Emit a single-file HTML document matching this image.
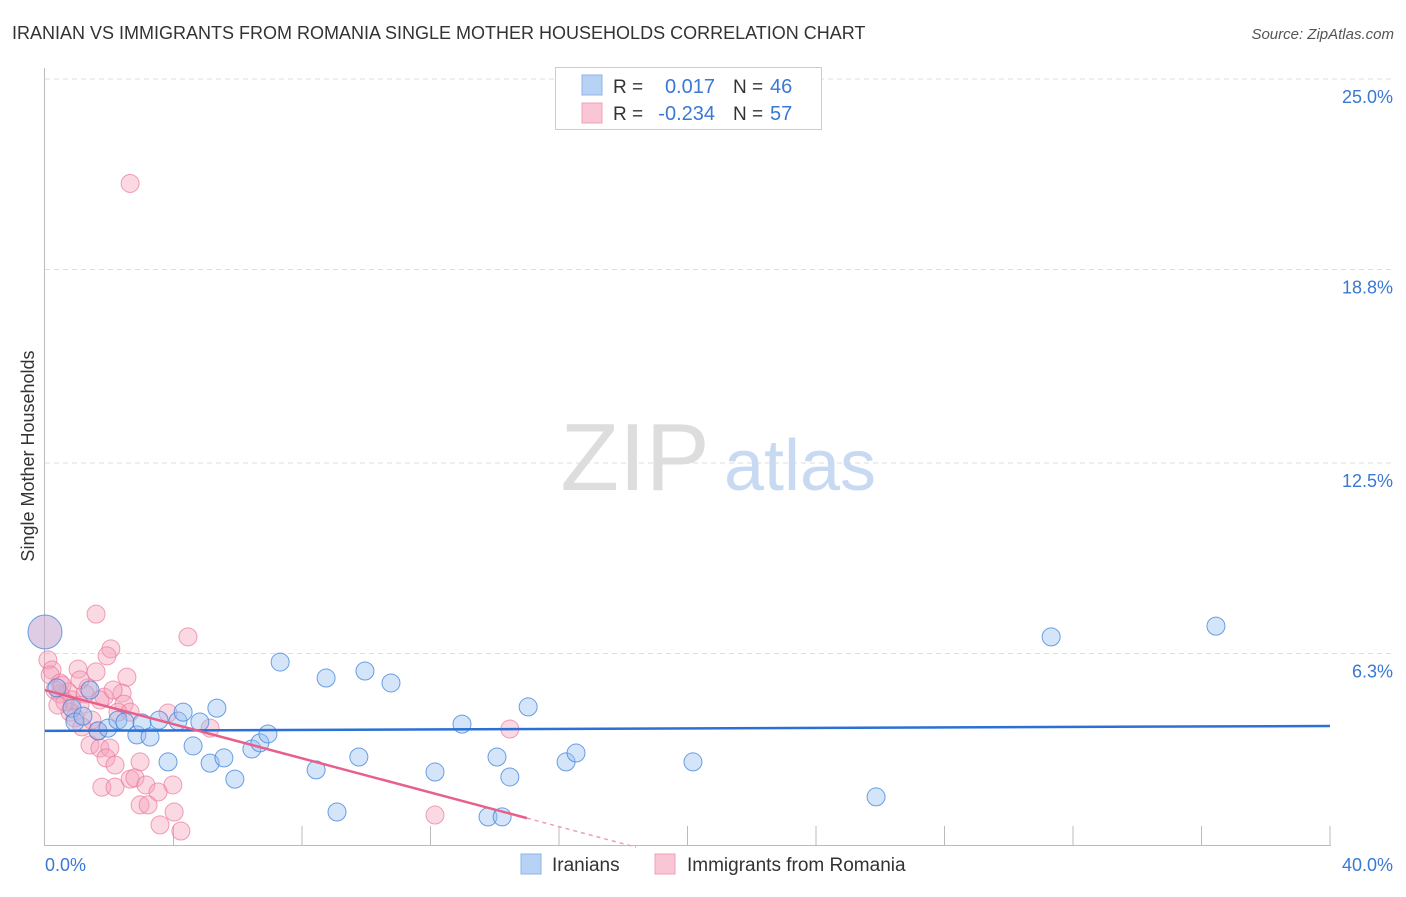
<!DOCTYPE html>
<html><head><meta charset="utf-8"><style>
body{margin:0;background:#fff;font-family:"Liberation Sans",sans-serif;}
svg text{font-family:"Liberation Sans",sans-serif;}
</style></head><body>
<svg id="chart" width="1406" height="892" viewBox="0 0 1406 892">
<text x="12" y="39" font-size="18" fill="#333">IRANIAN VS IMMIGRANTS FROM ROMANIA SINGLE MOTHER HOUSEHOLDS CORRELATION CHART</text>
<text x="1394" y="39" font-size="15" fill="#555" font-style="italic" text-anchor="end">Source: ZipAtlas.com</text>
<g id="grid"></g>
<g>
<text x="635" y="490" font-size="96" fill="#ddd" font-family="Liberation Serif" text-anchor="middle">ZIP</text>
<text x="800" y="490" font-size="72" fill="#c8daf2" text-anchor="middle">atlas</text></g>
<text transform="translate(34,456) rotate(-90)" font-size="18" fill="#333" text-anchor="middle">Single Mother Households</text>
<g id="marks"></g>
<g>
<rect x="555.5" y="67.5" width="266" height="62" fill="#fff" stroke="#ccc"/>
<rect x="582" y="75" width="20" height="20" fill="#b7d2f5" stroke="#8cb4e8"/>
<rect x="582" y="103" width="20" height="20" fill="#f9c6d5" stroke="#f0a0b8"/>
<text x="613" y="93" font-size="19" fill="#333">R =</text><text x="715" y="93" font-size="20" fill="#3a78d4" text-anchor="end">0.017</text>
<text x="733" y="93" font-size="19" fill="#333">N =</text><text x="770" y="93" font-size="20" fill="#3a78d4">46</text>
<text x="613" y="120" font-size="19" fill="#333">R =</text><text x="715" y="120" font-size="20" fill="#3a78d4" text-anchor="end">-0.234</text>
<text x="733" y="120" font-size="19" fill="#333">N =</text><text x="770" y="120" font-size="20" fill="#3a78d4">57</text>
</g>
<g>
<rect x="521" y="854" width="20" height="20" fill="#b7d2f5" stroke="#8cb4e8"/>
<text x="552" y="871" font-size="19" fill="#333">Iranians</text>
<rect x="655" y="854" width="20" height="20" fill="#f9c6d5" stroke="#f0a0b8"/>
<text x="687" y="871" font-size="19" fill="#333">Immigrants from Romania</text>
</g>
</svg>
<script>
const yTicks=[6.3,12.5,18.8,25.0];
const yTickLabels=["6.3%","12.5%","18.8%","25.0%"];
const xTickLabels=["0.0%","40.0%"];
const iranX=[0,0.37,1.4,0.84,0.93,1.18,1.65,1.96,2.27,2.49,2.86,3.02,3.27,3.55,3.83,4.14,4.30,4.61,4.82,5.14,5.35,5.57,5.91,6.44,6.69,6.94,7.32,8.44,8.75,9.09,9.77,9.96,10.77,12.14,12.98,13.79,14.07,14.23,14.47,15.04,16.22,16.53,20.17,25.87,31.32,36.45];
const iranY=[7.0,5.18,5.11,4.52,4.07,4.26,3.78,3.87,4.13,4.07,3.65,4.04,3.58,4.13,2.77,4.10,4.39,3.29,4.07,2.73,4.52,2.90,2.21,3.19,3.39,3.68,6.02,2.51,5.50,1.14,2.93,5.73,5.34,2.44,4.0,0.98,2.93,0.98,2.28,4.56,2.77,3.06,2.77,1.63,6.84,7.19];
const romX=[2.65,1.59,4.45,2.05,0.09,0.22,1.93,1.03,1.59,2.55,0.16,0.47,0.72,1.34,0.84,0.47,1.25,2.40,2.46,2.27,1.84,1.09,0.78,0.93,3.83,5.14,1.65,1.40,1.71,2.02,1.90,2.18,2.96,2.65,2.80,3.14,1.77,2.18,3.98,3.52,2.96,3.21,4.02,3.58,4.23,12.14,14.47,0.31,0.62,1.46,1.09,1.71,2.12,0.53,0.40,1.15,2.65];
const romY=[21.6,7.58,6.84,6.45,6.09,5.76,6.22,5.79,5.70,5.53,5.60,5.34,5.05,5.18,4.79,4.98,4.98,5.01,4.65,4.39,4.88,4.62,4.39,4.20,4.36,3.87,3.78,3.32,3.22,3.22,2.90,2.67,2.77,2.21,2.25,2.02,1.95,1.95,2.02,1.79,1.37,1.37,1.14,0.72,0.52,1.04,3.84,5.11,4.72,4.13,5.44,4.79,5.11,5.27,4.62,3.91,4.39];
const iranTrend=[3.78,3.94]; // at x=0 and x=40
const romTrend=[5.11,-0.278]; // intercept, slope
const NS="http://www.w3.org/2000/svg";
const sx=v=>45+v*32.125, sy=v=>847-v*30.72;
function mk(t,a,p){const e=document.createElementNS(NS,t);for(const k in a)e.setAttribute(k,a[k]);p.appendChild(e);return e;}
const grid=document.getElementById('grid'), marks=document.getElementById('marks');
yTicks.forEach((t,i)=>{
 const l=mk('line',{x1:45,x2:1395,y1:sy(t),y2:sy(t),stroke:'#ddd','stroke-dasharray':'5,4'},grid);
 
 
 const tx=mk('text',{x:1393,y:sy(t)+24,'font-size':18,fill:'#3a78d4','text-anchor':'end'},grid);
 tx.textContent=yTickLabels[i];
 
 
});
mk('line',{x1:44.5,x2:44.5,y1:68,y2:846,stroke:'#bbb'},grid);
mk('line',{x1:44,x2:1331,y1:845.5,y2:845.5,stroke:'#bbb'},grid);
for(let i=1;i<=10;i++){const x=sx(i*4);mk('line',{x1:x,x2:x,y1:826,y2:846,stroke:'#bbb'},grid);}
xTickLabels.forEach((s,i)=>{const t=mk('text',{x:i?1393:45,y:871,'font-size':18,fill:'#3a78d4','text-anchor':i?'end':'start'},grid);t.textContent=s;
 
 });
romX.forEach((x,i)=>{const c=mk('circle',{cx:sx(x),cy:sy(romY[i]),r:(i==0&&false)?16:9,fill:'rgba(245,160,185,0.4)',stroke:'rgba(235,120,155,0.7)','stroke-width':1},marks);
 
 });
iranX.forEach((x,i)=>{const c=mk('circle',{cx:sx(x),cy:sy(iranY[i]),r:i==0?17:9,fill:i==0?'rgba(200,170,210,0.6)':'rgba(150,190,240,0.4)',stroke:'rgba(60,130,220,0.75)','stroke-width':1},marks);
 
 });
const bl=mk('line',{x1:sx(0),y1:sy(iranTrend[0]),x2:sx(40),y2:sy(iranTrend[1]),stroke:'#2a70d6','stroke-width':2.5},marks);


const pl=mk('line',{x1:sx(0),y1:sy(romTrend[0]),x2:sx(15),y2:sy(romTrend[0]+romTrend[1]*15),stroke:'#e8608a','stroke-width':2.5},marks);


const pd=mk('line',{x1:sx(15),y1:sy(romTrend[0]+romTrend[1]*15),x2:sx(18.4),y2:sy(romTrend[0]+romTrend[1]*18.4),stroke:'#e8a0b5','stroke-width':1.5,'stroke-dasharray':'4,4'},marks);


</script>
</body></html>
